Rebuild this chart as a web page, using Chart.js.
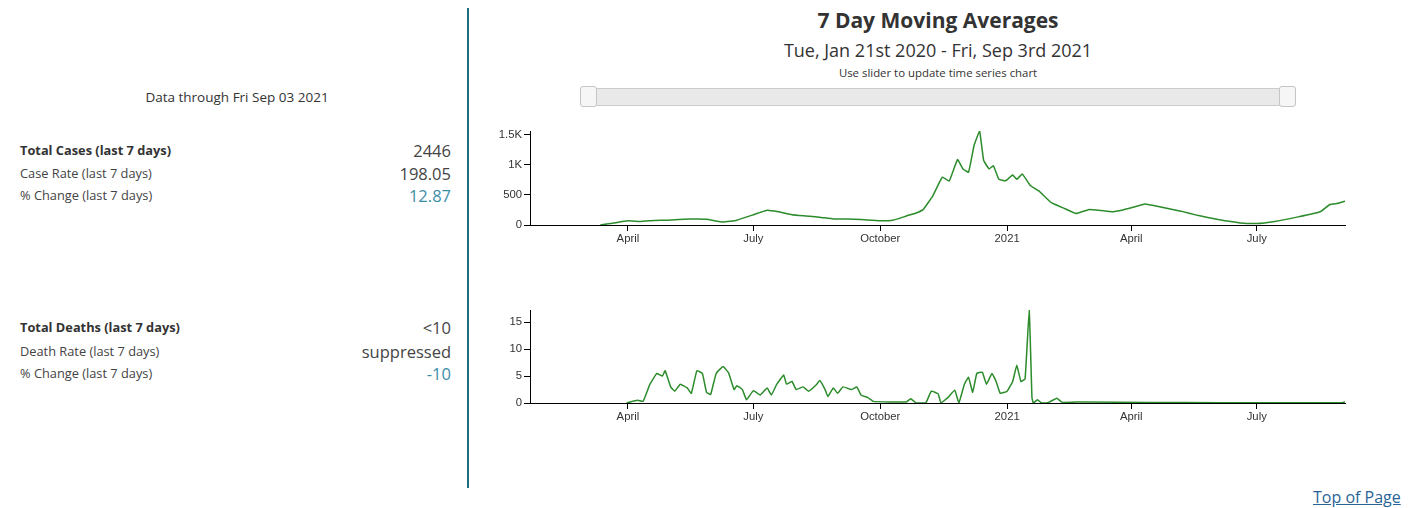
<!DOCTYPE html>
<html>
<head>
<meta charset="utf-8">
<script src="https://cdn.jsdelivr.net/npm/chart.js@4/dist/chart.umd.min.js"></script>
<style>
  body { margin:0; width:1421px; height:508px; background:#fff; font-family:"Open Sans", sans-serif; color:#333; position:relative; overflow:hidden; }
  .abs { position:absolute; line-height:1.36; }
  .lbl { font-size:12.8px; color:#444; }
  .val { font-size:16.5px; color:#444; text-align:right; width:200px; }
  .teal { color:#3a8ea8; }
  #divider { left:467px; top:8px; width:2px; height:480px; background:#1f6e80; }
  #slider { left:580px; top:88px; width:716px; height:18px; background:#e9e9e9; border:1px solid #ccc; border-radius:3px; box-sizing:border-box; }
  .handle { top:86px; width:17px; height:21px; background:#f6f6f6; border:1px solid #c5c5c5; border-radius:3px; box-sizing:border-box; }
  .box { left:480px; width:880px; height:135px; }
</style>
</head>
<body>
<div class="abs" style="left:0;width:474px;top:88px;text-align:center;font-size:13.5px;">Data through Fri Sep 03 2021</div>

<div class="abs lbl" style="left:20px;top:142px;font-weight:bold;color:#333;">Total Cases (last 7 days)</div>
<div class="abs lbl" style="left:20px;top:165px;">Case Rate (last 7 days)</div>
<div class="abs lbl" style="left:20px;top:187px;">% Change (last 7 days)</div>
<div class="abs val" style="left:251px;top:140px;">2446</div>
<div class="abs val" style="left:251px;top:163px;">198.05</div>
<div class="abs val teal" style="left:251px;top:185px;">12.87</div>

<div class="abs lbl" style="left:20px;top:319px;font-weight:bold;color:#333;">Total Deaths (last 7 days)</div>
<div class="abs lbl" style="left:20px;top:343px;">Death Rate (last 7 days)</div>
<div class="abs lbl" style="left:20px;top:365px;">% Change (last 7 days)</div>
<div class="abs val" style="left:251px;top:317px;">&lt;10</div>
<div class="abs val" style="left:251px;top:341px;">suppressed</div>
<div class="abs val teal" style="left:251px;top:363px;">-10</div>

<div id="divider" class="abs"></div>

<div class="abs" style="left:470px;width:936px;top:6px;text-align:center;font-size:21px;font-weight:bold;">7 Day Moving Averages</div>
<div class="abs" style="left:470px;width:936px;top:38px;text-align:center;font-size:18px;">Tue, Jan 21st 2020 - Fri, Sep 3rd 2021</div>
<div class="abs" style="left:470px;width:936px;top:65px;text-align:center;font-size:11.4px;">Use slider to update time series chart</div>
<div id="slider" class="abs"></div>
<div class="abs handle" style="left:580px;"></div>
<div class="abs handle" style="left:1279px;"></div>

<div class="abs box" style="top:120px;"><canvas id="cases"></canvas></div>
<div class="abs box" style="top:298px;"><canvas id="deaths"></canvas></div>

<a class="abs" href="#" style="left:1313px;top:487px;font-size:16px;color:#2a6496;">Top of Page</a>

<script>
// x = days since Tue Jan 21 2020
const tickDays = [71, 162, 254, 346, 436, 527];
const tickNames = ["April", "July", "October", "2021", "April", "July"];
const lastDay = 591;

const caseDays = [51, 60, 71, 80, 90, 100, 116, 128, 140, 150, 162, 167, 172, 180, 190, 200, 210, 220, 230, 240, 254, 262, 268, 273, 280, 285, 292, 299, 304, 310, 314, 318, 322, 326, 329, 333, 336, 340, 345, 350, 353, 357, 363, 369, 378, 388, 396, 405, 414, 422, 430, 436, 446, 453, 460, 472, 484, 499, 515, 527, 540, 557, 573, 580, 586, 591];
const caseValues = [0, 30, 70, 60, 75, 80, 100, 95, 50, 80, 170, 210, 245, 220, 170, 150, 130, 100, 100, 90, 70, 75, 110, 150, 200, 255, 480, 795, 730, 1085, 930, 875, 1320, 1560, 1070, 930, 985, 760, 735, 830, 760, 845, 650, 565, 370, 270, 190, 255, 240, 220, 250, 285, 350, 320, 285, 230, 160, 90, 35, 25, 60, 135, 220, 340, 360, 395];

const deathDays = [70, 78, 82, 87, 92, 96, 98, 102, 105, 109, 114, 117, 121, 125, 128, 131, 135, 140, 144, 148, 150, 154, 157, 162, 167, 172, 175, 179, 184, 186, 190, 193, 198, 202, 208, 210, 214, 216, 220, 223, 227, 233, 237, 240, 245, 249, 261, 273, 276, 280, 287, 291, 296, 298, 303, 308, 311, 315, 318, 321, 324, 328, 331, 335, 338, 341, 346, 350, 353, 356, 359, 362, 364, 365, 368, 371, 376, 382, 386, 400, 450, 500, 550, 589, 591];
const deathValues = [0, 0.5, 0.3, 3.5, 5.5, 5.0, 6.0, 3.0, 2.2, 3.5, 2.8, 1.8, 6.0, 5.5, 2.0, 1.6, 5.5, 6.8, 5.6, 2.5, 3.2, 2.5, 0.6, 2.3, 1.5, 2.8, 1.5, 3.5, 5.2, 3.5, 4.0, 2.5, 3.0, 2.2, 3.5, 4.2, 2.5, 1.2, 2.8, 1.8, 3.0, 2.5, 3.0, 1.5, 1.0, 0.3, 0.2, 0.2, 0.8, 0, 0, 2.2, 1.7, 0, 1.0, 2.4, 0, 3.5, 4.8, 2.0, 5.5, 5.7, 3.5, 5.5, 4.0, 1.8, 2.2, 4.0, 7.0, 4.0, 4.5, 17.3, 1.0, 0, 0.6, 0, 0.1, 0.9, 0.1, 0.2, 0.1, 0.05, 0.05, 0.05, 0.2];

const caseTicks = [0, 500, 1000, 1500];
const caseTickLabels = ["0", "500", "1K", "1.5K"];
const deathTicks = [0, 5, 10, 15];

function pts(xs, ys) {
  return xs.map((d, i) => ({x: d, y: ys[i]}));
}

const axisFont = {family: "'Liberation Sans', Arial, sans-serif", size: 11.3};

function makeChart(id, data, yMax, yTicks, yLabels, top) {
  return new Chart(document.getElementById(id), {
    type: 'line',
    data: {
      datasets: [{
        data: data,
        borderColor: '#2c8c2c',
        borderWidth: 1.5,
        pointRadius: 0,
        tension: 0.1,
        fill: false
      }]
    },
    options: {
      animation: false,
      responsive: true,
      maintainAspectRatio: false,
      layout: {padding: {top: top, right: 15, left: 0, bottom: 0}},
      plugins: {legend: {display: false}, tooltip: {enabled: false}},
      scales: {
        x: {
          type: 'linear',
          min: 0,
          max: lastDay,
          afterBuildTicks: s => { s.ticks = tickDays.map(v => ({value: v})); },
          afterFit: s => { s.height = 30; },
          ticks: {
            callback: (v) => tickNames[tickDays.indexOf(v)],
            color: '#333',
            font: axisFont,
            maxRotation: 0,
            autoSkip: false,
            padding: 1
          },
          grid: {drawOnChartArea: false, tickLength: 6, color: '#000'},
          border: {color: '#000', width: 1}
        },
        y: {
          min: 0,
          max: yMax,
          afterBuildTicks: s => { s.ticks = yTicks.map(v => ({value: v})); },
          afterFit: s => { s.width = 50; },
          ticks: {
            callback: (v) => yLabels[yTicks.indexOf(v)],
            color: '#333',
            font: axisFont,
            autoSkip: false,
            padding: 2
          },
          grid: {drawOnChartArea: false, tickLength: 6, color: '#000'},
          border: {color: '#000', width: 1}
        }
      }
    }
  });
}

makeChart('cases', pts(caseDays, caseValues), 1560, caseTicks, caseTickLabels, 11);
makeChart('deaths', pts(deathDays, deathValues), 17.3, deathTicks, deathTicks.map(String), 12);
</script>
</body>
</html>
